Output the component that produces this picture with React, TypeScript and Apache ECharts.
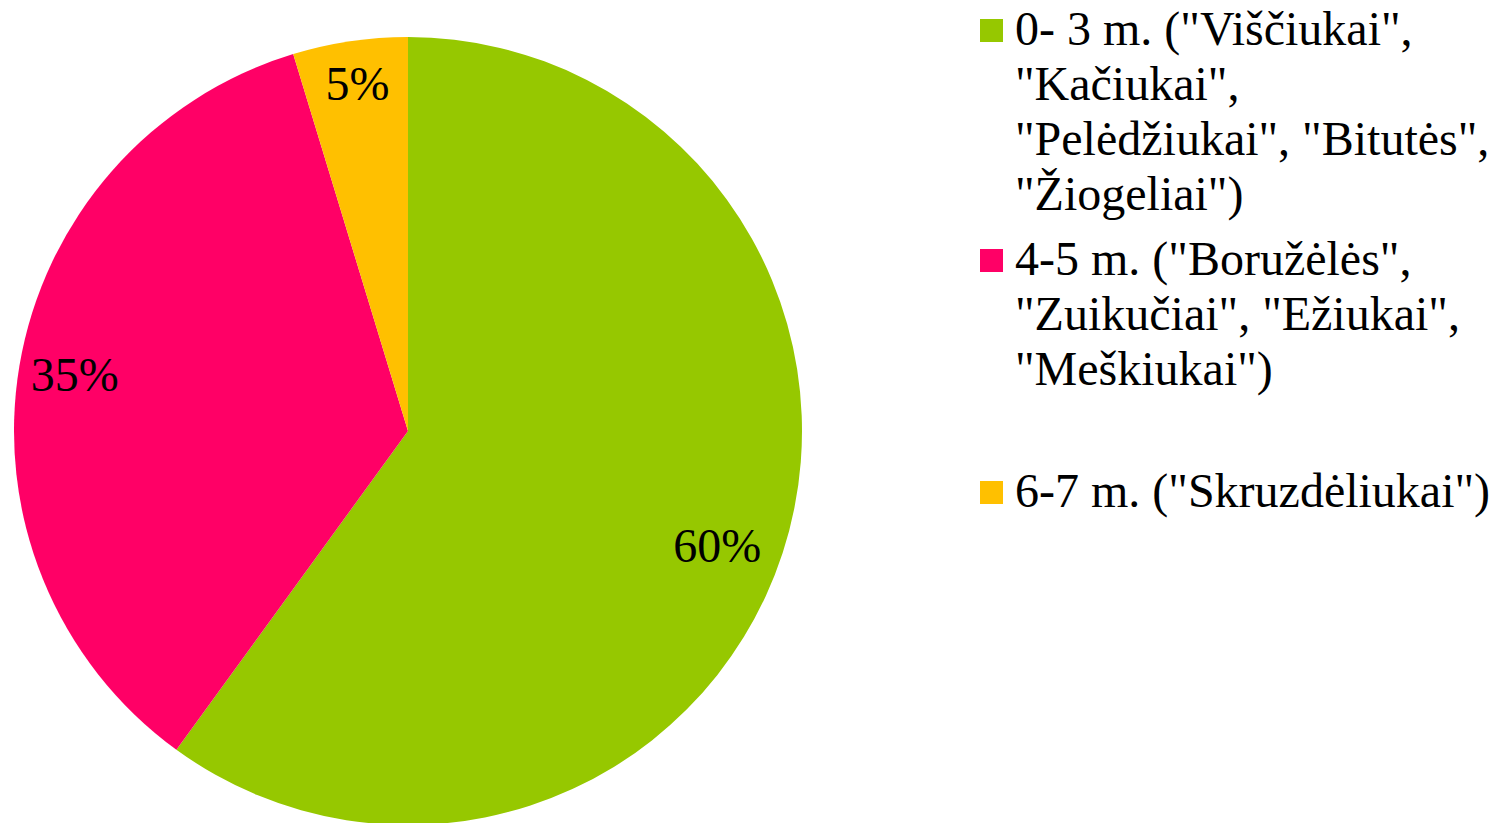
import React, { useEffect, useRef } from "react";
import * as echarts from "echarts";

const categories: string[] = [
  '0- 3 m. ("Viščiukai",\n"Kačiukai",\n"Pelėdžiukai", "Bitutės",\n"Žiogeliai")',
  '4-5 m. ("Boružėlės",\n"Zuikučiai", "Ežiukai",\n"Meškiukai")',
  '6-7 m. ("Skruzdėliukai")',
];
// estimated counts (shares ~60% / 35% / 5%)
const values: number[] = [51, 30, 4];
const colors: string[] = ["#96C800", "#FF0066", "#FFC000"];

const FONT = "'Liberation Serif', 'Times New Roman', serif";
const legendTops = [1, 231, 463];
// small label nudges (Excel "best fit" placement)
const labelNudges: [number, number][] = [
  [-17, 9],
  [5, 0],
  [0, -8],
];

export default function App() {
  const ref = useRef<HTMLDivElement>(null);
  useEffect(() => {
    document.body.style.margin = "0";
    const chart = echarts.init(ref.current!, null, { renderer: "svg" });
    const data = categories.map((name, i) => ({
      name,
      value: values[i],
      itemStyle: { color: colors[i] },
    }));
    const graphic: any[] = [];
    categories.forEach((name, i) => {
      graphic.push({
        type: "rect",
        left: 980,
        top: legendTops[i] + 18,
        shape: { width: 23, height: 23 },
        style: { fill: colors[i] },
      });
      graphic.push({
        type: "text",
        left: 1015,
        top: legendTops[i],
        style: {
          text: name,
          fontFamily: FONT,
          fontSize: 48,
          lineHeight: 55,
          fill: "#000",
        },
      });
    });
    chart.setOption({
      animation: false,
      backgroundColor: "#fff",
      series: [
        {
          type: "pie",
          center: [408, 431],
          radius: [0, 394],
          startAngle: 90,
          clockwise: true,
          silent: true,
          label: { show: false },
          labelLine: { show: false },
          data,
        },
        {
          type: "pie",
          center: [408, 431],
          radius: [286, 394],
          startAngle: 90,
          clockwise: true,
          silent: true,
          label: {
            show: true,
            position: "inside",
            formatter: (p: any) => Math.round(p.percent) + "%",
            fontFamily: FONT,
            fontSize: 48,
            color: "#000",
          },
          labelLayout: (params: any) => {
            const n = labelNudges[params.dataIndex] || [0, 0];
            return { dx: n[0], dy: n[1] };
          },
          labelLine: { show: false },
          data: categories.map((name, i) => ({
            name,
            value: values[i],
            itemStyle: { color: "rgba(0,0,0,0)" },
          })),
        },
      ],
      graphic,
    });
    return () => chart.dispose();
  }, []);
  return <div ref={ref} style={{ width: 1495, height: 823 }} />;
}
